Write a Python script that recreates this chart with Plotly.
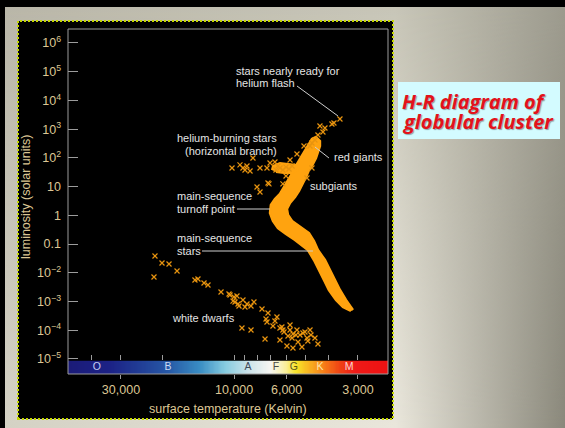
import base64
import numpy as np
import plotly.graph_objects as go

W, H = 565, 428

# ---------------------------------------------------------------- data
# Temperature axis (Kelvin) and luminosity axis (solar units)
temp_tick_vals = [40000, 30000, 20000, 10000, 9000, 8000, 7000, 6000, 5000, 4000, 3000]
temp_label_vals = [30000, 10000, 6000, 3000]
temp_label_text = ["30,000", "10,000", "6,000", "3,000"]
temp_hot, temp_cool = 50200, 2240

lum_tick_vals = [1e6, 1e5, 1e4, 1e3, 1e2, 10, 1, 0.1, 1e-2, 1e-3, 1e-4, 1e-5]
lum_tick_text = ["10<sup>6</sup>", "10<sup>5</sup>", "10<sup>4</sup>", "10<sup>3</sup>",
                 "10<sup>2</sup>", "10", "1", "0.1", "10<sup>\u22122</sup>",
                 "10<sup>\u22123</sup>", "10<sup>\u22124</sup>", "10<sup>\u22125</sup>"]
lum_low, lum_high = 10 ** -5.035, 10 ** 6.487

# Densely populated main sequence -> turnoff -> subgiant -> red giant branch (outline)
band_T = [3210, 3470, 3713, 3976, 4174, 4380, 4600, 4876, 5530, 6035, 6525, 6850,
          7050, 6990, 6720, 6400, 6220, 5920, 5640, 5425, 5218, 5020, 4829, 4690,
          4511, 4340,
          4340, 4425, 4511, 4645, 4829, 4970, 5120, 5319, 5530, 5805, 5980, 5920,
          5690, 5270, 4829, 4600, 4425, 4134, 3938, 3750, 3573, 3371, 3242, 3149]
band_L = [4.69e-4, 6.45e-4, 1.13e-3, 2.52e-3, 5.62e-3, 1.25e-2, 2.79e-2, 6.22e-2,
          0.139, 0.2245, 0.363, 0.636, 1.21, 2.29, 3.71, 5.54, 8.27, 15.7, 32.3,
          61.4, 107, 189, 330, 455,
          534, 388,
          260, 161, 99.2, 61.4, 37.9, 21.6, 12.4, 7.05, 4.36, 2.69, 1.665, 1.03,
          0.636, 0.393, 0.243, 0.128, 0.0622, 0.0279, 0.0125, 5.62e-3, 2.52e-3,
          1.13e-3, 6.99e-4, 5.08e-4]

# Red clump end of the horizontal branch (outline)
clump_T = [6920, 6850, 6400, 5920, 5480, 5373, 5690, 6155, 6655]
clump_L = [37.9, 52.3, 66.5, 61.4, 56.6, 37.9, 29.8, 29.8, 32.3]

# Individual horizontal-branch stars
hb_T = [10200, 9440, 9170, 8990, 8820, 8560, 8320, 8000, 7770, 7770, 7260,
        7120, 6720, 6400, 6220, 6035, 5862, 5690, 6525, 6655, 7050, 7190]
hb_L = [44.5, 57, 44.5, 38, 52.3, 35.0, 99, 9.7, 6.5, 44.5, 44.5,
        12.4, 72, 44.5, 38, 48, 41.1, 52.3, 52.3, 38, 66.5, 13.4]

# Scattered giants along the edges of the branch and near its tip
giant_T = [3573, 3788, 3862, 4134, 4340, 4215, 4555, 4690, 4425, 4780,
           5805, 5425, 6035, 6220, 4690, 4923, 5067]
giant_L = [2260, 1640, 1515, 1100, 1290, 798, 420, 330, 627, 260,
           84.5, 137, 23.4, 12.4, 44.5, 20.0, 260]

# White dwarfs and hot subdwarfs
wd_T = [21560, 20140, 18810, 17400, 21770, 14620, 14200, 13390, 12880, 11350,
        10500, 10000, 9720, 10100, 9170, 8820, 8240, 9530, 8480, 7620,
        7190, 6590, 7330, 6720, 7260, 9260, 8480, 7400, 6850, 6400,
        6155, 5805, 5640, 5690, 5270, 5020, 4920, 4735, 4555, 4425,
        5370, 5640, 5170, 5980, 6400, 5805, 4880, 4780, 10400, 9910,
        9620, 8990, 6280, 5480, 5120, 5920, 5425, 6220]
wd_L = [0.0385, 0.0220, 0.0203, 0.0116, 0.00715, 0.00562, 0.00609, 0.00442, 0.00376, 0.00215,
        0.00183, 0.00144, 0.00156, 0.00104, 0.00113, 8.21e-4, 9.64e-4, 6.99e-4, 6.99e-4, 5.50e-4,
        3.99e-4, 2.90e-4, 2.47e-4, 2.10e-4, 1.94e-4, 1.20e-4, 1.02e-4, 4.97e-5, 1.41e-4, 1.20e-4,
        8.70e-5, 1.02e-4, 7.41e-5, 5.38e-5, 6.84e-5, 8.70e-5, 5.38e-5, 6.84e-5, 5.38e-5, 3.33e-5,
        3.90e-5, 2.41e-5, 2.62e-5, 2.83e-5, 4.58e-5, 1.53e-4, 4.23e-5, 1.02e-4, 1.69e-3, 9.64e-4,
        8.21e-4, 6.45e-4, 1.30e-4, 6.84e-5, 8.04e-5, 6.32e-5, 1.02e-4, 1.02e-4]

# Leader lines joining labels to the stars they describe
pointer_T = [5425, 3642, None, 4555, 3976, None, 9720, 7050, None, 13650, 4645]
pointer_L = [31850, 2876, None, 240, 99.3, None, 1.665, 1.665, None, 0.0574, 0.0574]

# Spectral classes along the colour strip
spec_letters = ["O", "B", "A", "F", "G", "K", "M"]
spec_T = [37900, 19000, 8730, 6650, 5590, 4340, 3270]
spec_colors = ["#c4cdf2", "#c9d9f2", "#3d4a58", "#4a4a44", "#5a5418", "#fde6a8", "#ffd6d0"]

# Colour of a star's surface at a given temperature
strip_stop_T = [50200, 33370, 19000, 13920, 10920, 8730, 7050, 6100, 5480, 4780, 4134, 3573, 3087, 2240]
strip_stop_colors = ["#1b1b78", "#1c2286", "#2658a6", "#3a8ec4", "#86cce0", "#cbe3ea", "#f6f6f2",
                     "#f9f0a2", "#f8e42a", "#f8b020", "#f77a18", "#ef4214", "#ee1a18", "#ee1212"]

# ---------------------------------------------------------------- helpers
def px(x):
    return x / W


def py(y):
    return 1 - y / H


lt_hot, lt_cool = np.log10(temp_hot), np.log10(temp_cool)


def strip_pos(t):
    return float((lt_hot - np.log10(t)) / (lt_hot - lt_cool))


strip_scale = [[strip_pos(t), c] for t, c in zip(strip_stop_T, strip_stop_colors)]
strip_scale[0][0], strip_scale[-1][0] = 0.0, 1.0
strip_cells_T = np.geomspace(temp_hot, temp_cool, 260)
strip_cells_z = [strip_pos(t) for t in strip_cells_T]

FONT = "Liberation Sans, Arial, sans-serif"
TAN = "#dcc694"
LABEL = "#e4e4e4"
STAR = "#ffa30f"

fig = go.Figure()

# main-sequence / giant branch band
fig.add_trace(go.Scatter(x=band_T, y=band_L, mode="lines", fill="toself",
                         fillcolor=STAR, line=dict(color=STAR, width=2.5),
                         hoverinfo="skip"))
fig.add_trace(go.Scatter(x=clump_T, y=clump_L, mode="lines", fill="toself",
                         fillcolor=STAR, line=dict(color=STAR, width=2),
                         hoverinfo="skip"))

# individual stars
xmark = dict(symbol="x-thin", size=5, line=dict(width=1.2, color="#e8940f"))
for tx, ly in ((hb_T, hb_L), (giant_T, giant_L), (wd_T, wd_L)):
    fig.add_trace(go.Scatter(x=tx, y=ly, mode="markers", marker=xmark, hoverinfo="skip"))

# leader lines
fig.add_trace(go.Scatter(x=pointer_T, y=pointer_L, mode="lines",
                         line=dict(color="#cfcfcf", width=1), hoverinfo="skip",
                         connectgaps=False))

# colour strip with spectral classes
fig.add_trace(go.Heatmap(x=strip_cells_T, y=[0.5], z=[strip_cells_z],
                         colorscale=strip_scale, zmin=0, zmax=1, showscale=False,
                         xaxis="x2", yaxis="y2", hoverinfo="skip"))
fig.add_trace(go.Scatter(x=spec_T, y=[0.5] * len(spec_T), mode="text", text=spec_letters,
                         textfont=dict(family=FONT, size=10.5, color=spec_colors),
                         xaxis="x2", yaxis="y2", hoverinfo="skip", cliponaxis=False))

# ---------------------------------------------------------------- slide background
bg_svg = (
    "<svg xmlns='http://www.w3.org/2000/svg' width='565' height='428'>"
    "<defs>"
    "<linearGradient id='t' x1='0' y1='0' x2='1' y2='0'>"
    "<stop offset='0' stop-color='#b9b6a8'/><stop offset='0.7' stop-color='#c8c6b8'/>"
    "<stop offset='1' stop-color='#9d9b8e'/></linearGradient>"
    "<linearGradient id='b' x1='0' y1='0' x2='1' y2='0'>"
    "<stop offset='0' stop-color='#d4d1c4'/><stop offset='0.7' stop-color='#e9e6db'/>"
    "<stop offset='1' stop-color='#8a887b'/></linearGradient>"
    "<linearGradient id='v' x1='0' y1='0' x2='0' y2='1'>"
    "<stop offset='0' stop-color='#000'/><stop offset='1' stop-color='#fff'/></linearGradient>"
    "<mask id='m'><rect width='565' height='428' fill='url(#v)'/></mask>"
    "</defs>"
    "<rect width='565' height='428' fill='url(#t)'/>"
    "<rect width='565' height='428' fill='url(#b)' mask='url(#m)'/>"
    "</svg>"
)
bg_src = "data:image/svg+xml;base64," + base64.b64encode(bg_svg.encode()).decode()


def rect(x0, y0, x1, y1, **kw):
    return dict(type="rect", xref="paper", yref="paper",
                x0=px(x0), x1=px(x1), y0=py(y1), y1=py(y0), **kw)


shapes = [
    rect(0, 0, 565, 7, fillcolor="black", line=dict(width=0), layer="below"),
    rect(0, 0, 5, 428, fillcolor="black", line=dict(width=0), layer="below"),
    rect(18, 21, 393, 419, fillcolor="black",
         line=dict(color="#c4d600", width=2, dash="2px,2px"), layer="below"),
    rect(398, 82, 560, 139, fillcolor="#d3fbff", line=dict(width=0), layer="below"),
    rect(68, 29, 388, 374, fillcolor="rgba(0,0,0,0)",
         line=dict(color="#9c9c9c", width=1), layer="above"),
]

# ---------------------------------------------------------------- text
labels = [
    ("stars nearly ready for", 234, 71),
    ("helium flash", 234, 83),
    ("helium-burning stars", 175, 138),
    ("(horizontal branch)", 183, 151),
    ("red giants", 332, 157),
    ("subgiants", 308, 186),
    ("main-sequence", 175, 196),
    ("turnoff point", 175, 209),
    ("main-sequence", 175, 238),
    ("stars", 175, 251),
    ("white dwarfs", 170, 318),
]
annotations = [
    dict(text=t, x=px(x), y=py(y), xref="paper", yref="paper", xanchor="left",
         yanchor="middle", showarrow=False, font=dict(family=FONT, size=11, color=LABEL))
    for t, x, y in labels
]
TITLE_FONT = dict(family="Open Sans, Lato, sans-serif", size=20, color="#e3121b",
                  shadow="1px 1px 1px rgba(0,0,0,0.35)")
annotations += [
    dict(text="surface temperature (Kelvin)", x=px(228), y=py(409), xref="paper", yref="paper",
         xanchor="center", yanchor="middle", showarrow=False,
         font=dict(family=FONT, size=12.5, color=TAN)),
    dict(text="luminosity (solar units)", x=px(26), y=py(197), xref="paper", yref="paper",
         xanchor="center", yanchor="middle", showarrow=False, textangle=-90,
         font=dict(family=FONT, size=12.5, color=TAN)),
    dict(text="<b><i>H-R diagram of</i></b>", x=px(400), y=py(101), xref="paper", yref="paper",
         xanchor="left", yanchor="middle", showarrow=False, font=TITLE_FONT),
    dict(text="<b><i>globular cluster</i></b>", x=px(400), y=py(122), xref="paper", yref="paper",
         xanchor="left", yanchor="middle", showarrow=False, font=TITLE_FONT),
]

x_dom = [px(68), px(388)]
fig.update_layout(
    width=W, height=H, margin=dict(l=0, r=0, t=0, b=0, pad=0, autoexpand=False),
    paper_bgcolor="#bdbbad", plot_bgcolor="rgba(0,0,0,0)", showlegend=False,
    images=[dict(source=bg_src, xref="paper", yref="paper", x=0, y=1, sizex=1, sizey=1,
                 xanchor="left", yanchor="top", sizing="stretch", layer="below")],
    shapes=shapes, annotations=annotations,
    xaxis=dict(domain=x_dom, type="log", range=[lt_hot, lt_cool], anchor="y",
               tickmode="array", tickvals=temp_tick_vals, showticklabels=False,
               ticks="inside", ticklen=5, tickcolor="#9c9c9c", tickwidth=1,
               showgrid=False, zeroline=False, showline=False, automargin=False),
    yaxis=dict(domain=[py(360), py(29)], type="log",
               range=[np.log10(lum_low), np.log10(lum_high)], anchor="x",
               tickmode="array", tickvals=lum_tick_vals, ticktext=lum_tick_text,
               ticks="inside", ticklen=10, tickcolor="#9c9c9c", tickwidth=1,
               tickfont=dict(family=FONT, size=12.5, color=TAN), ticklabelstandoff=6,
               showgrid=False, zeroline=False, showline=False, automargin=False),
    xaxis2=dict(domain=x_dom, type="log", range=[lt_hot, lt_cool], anchor="y2",
                tickmode="array", tickvals=temp_label_vals, ticktext=temp_label_text,
                ticks="outside", ticklen=4, tickcolor="#9c9c9c", tickwidth=1,
                tickfont=dict(family=FONT, size=12.5, color=TAN),
                showgrid=False, zeroline=False, showline=False, automargin=False),
    yaxis2=dict(domain=[py(374), py(360.5)], range=[0, 1], anchor="x2", visible=False,
                automargin=False),
)

fig.write_html("out.html")
